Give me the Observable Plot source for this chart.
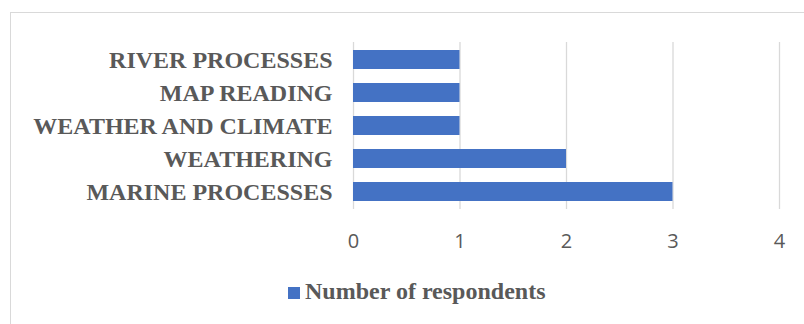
<!DOCTYPE html>
<html>
<head>
<meta charset="utf-8">
<script src="https://cdn.jsdelivr.net/npm/d3@7"></script>
<script src="https://cdn.jsdelivr.net/npm/@observablehq/plot@0.6"></script>
<style>
  html, body { margin: 0; padding: 0; background: #fff; }
  #wrap { position: relative; width: 804px; height: 324px; overflow: hidden; }
  #frame { position: absolute; left: 10px; top: 12px; width: 900px; height: 400px;
           border-left: 1.5px solid #d9d9d9; border-top: 1.5px solid #d9d9d9; }
  #chart { position: absolute; left: 0; top: 0; }
  #legend { position: absolute; left: 288px; top: 278px; display: flex; align-items: center;
            font-family: "Liberation Serif", "Times New Roman", serif; font-weight: bold;
            font-size: 24px; color: #595959; white-space: nowrap; }
  #legend .sw { width: 12px; height: 12px; background: #4472C4; margin-right: 5px; margin-top: 2px; }
</style>
</head>
<body>
<div id="wrap">
  <div id="frame"></div>
  <div id="chart"></div>
  <div id="legend"><span class="sw"></span><span>Number of respondents</span></div>
</div>
<script>
const categories = ["RIVER PROCESSES", "MAP READING", "WEATHER AND CLIMATE", "WEATHERING", "MARINE PROCESSES"];
const respondents = [1, 1, 1, 2, 3];
const xTicks = [0, 1, 2, 3, 4];
const seriesName = "Number of respondents";

const data = categories.map((c, i) => ({topic: c, value: respondents[i]}));

const chart = Plot.plot({
  width: 804,
  height: 324,
  marginLeft: 353,
  marginRight: 25,
  marginTop: 42,
  marginBottom: 115,
  style: {background: "transparent", overflow: "visible"},
  x: {domain: [0, 4], ticks: xTicks},
  y: {domain: categories, paddingInner: 0.43, paddingOuter: 0.215},
  marks: [
    Plot.ruleX(xTicks, {stroke: "#d9d9d9", strokeWidth: 1.3}),
    Plot.barX(data, {x: "value", y: "topic", fill: "#4472C4"}),
    Plot.axisY({tickSize: 0, tickPadding: 21, label: null, fontSize: 24, fontWeight: "bold",
      fontFamily: "Liberation Serif, Times New Roman, serif", fill: "#595959"}),
    Plot.axisX({ticks: xTicks, tickSize: 0, tickPadding: 24, label: null, fontSize: 20,
      fontFamily: "Open Sans, Liberation Sans, sans-serif", fill: "#595959", tickFormat: d => String(d)})
  ]
});
document.getElementById("chart").appendChild(chart);
</script>
</body>
</html>
